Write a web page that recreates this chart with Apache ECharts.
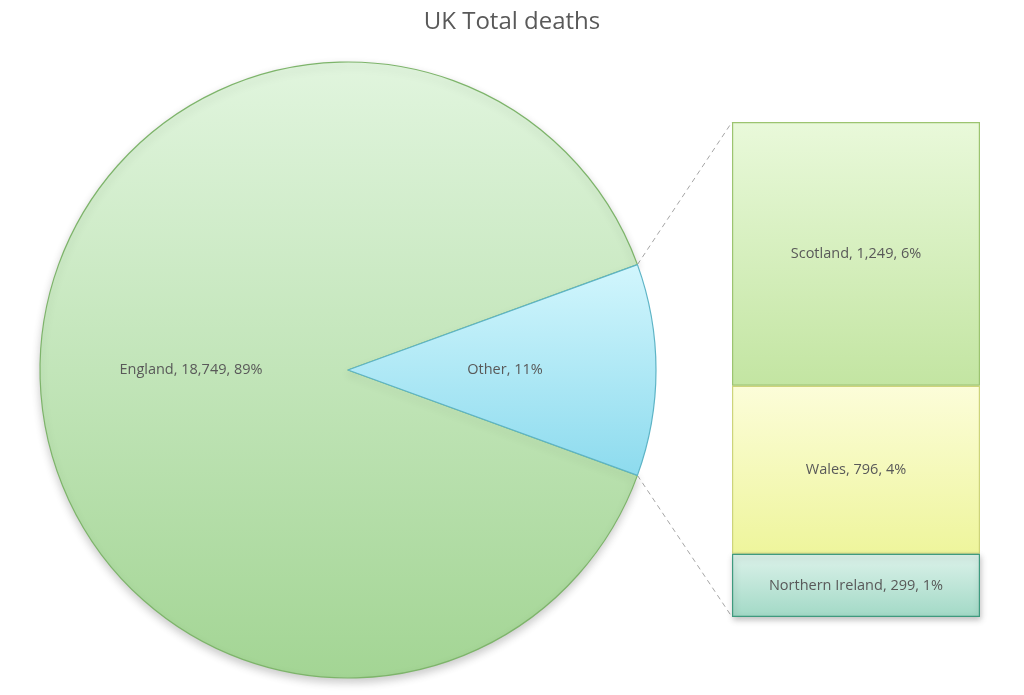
<!DOCTYPE html>
<html>
<head>
<meta charset="utf-8">
<script src="https://cdn.jsdelivr.net/npm/echarts@6/dist/echarts.min.js"></script>
<style>
html,body{margin:0;padding:0;background:#fff;}
#c{width:1024px;height:695px;}
</style>
</head>
<body>
<div id="c"></div>
<script>
// ---- data ----
const titleText = 'UK Total deaths';
const pieNames = ['England', 'Other'];
const otherNames = ['Northern Ireland', 'Wales', 'Scotland'];
const otherValues = [299, 796, 1249];
const englandValue = 18749;
const englandPct = '89%';
const otherPct = '11%';
const otherPcts = ['1%', '4%', '6%'];

// ---- layout ----
const CX = 348, CY = 370, R = 308;
const GRID = {left: 732, right: 44, top: 122, bottom: 78};
const W = 1024, H = 695;

const otherTotal = otherValues.reduce((a, b) => a + b, 0);
const total = otherTotal + englandValue;
const halfAngle = 180 * otherTotal / total;

const fontFam = '"Open Sans", "Noto Sans", sans-serif';
const textColor = '#595959';
const labelSize = 14.5;

function grad(top, bottom) {
  return {type: 'linear', x: 0, y: 0, x2: 0, y2: 1,
    colorStops: [{offset: 0, color: top}, {offset: 1, color: bottom}]};
}

const fmtNum = v => v.toLocaleString('en-US');

const barStyles = [
  {fill: grad('#dcf2ea', '#a2d9c6'), border: '#3f9a7e'},
  {fill: grad('#fcfdd9', '#eef59c'), border: '#cdd47a'},
  {fill: grad('#e9f9da', '#c3e5a2'), border: '#9cc470'}
];

const barSeries = otherNames.map((n, i) => ({
  name: n,
  type: 'bar',
  stack: 'other',
  barWidth: '100%',
  data: [otherValues[i]],
  itemStyle: Object.assign({
    color: barStyles[i].fill,
    borderColor: barStyles[i].border,
    borderWidth: 1.2
  }, i === 0 ? {shadowBlur: 6, shadowOffsetY: 3, shadowOffsetX: 1, shadowColor: 'rgba(0,0,0,0.25)'} : {}),
  label: {
    show: true, position: 'inside',
    formatter: n + ', ' + fmtNum(otherValues[i]) + ', ' + otherPcts[i],
    color: textColor, fontSize: labelSize, fontFamily: fontFam
  },
  z: 2 + (otherNames.length - i),
  silent: true
}));

// connector lines computed from pie geometry and bar grid
const a = halfAngle * Math.PI / 180;
const p1 = [CX + R * Math.cos(a), CY - R * Math.sin(a)];
const p2 = [CX + R * Math.cos(a), CY + R * Math.sin(a)];
const barTopY = GRID.top, barBotY = H - GRID.bottom, barLeftX = GRID.left;

const option = {
  backgroundColor: '#fff',
  animation: false,
  title: {
    text: titleText, left: 'center', top: 5,
    textStyle: {color: textColor, fontSize: 24, fontWeight: 'normal', fontFamily: fontFam}
  },
  grid: {left: GRID.left, right: GRID.right, top: GRID.top, bottom: GRID.bottom},
  xAxis: {type: 'category', data: ['Other'], show: false},
  yAxis: {type: 'value', min: 0, max: otherTotal, show: false},
  graphic: [
    {type: 'line', z: 1, shape: {x1: p1[0], y1: p1[1], x2: barLeftX, y2: barTopY},
      style: {stroke: '#a6a6a6', lineWidth: 1, lineDash: [5, 4]}},
    {type: 'line', z: 1, shape: {x1: p2[0], y1: p2[1], x2: barLeftX, y2: barBotY},
      style: {stroke: '#a6a6a6', lineWidth: 1, lineDash: [5, 4]}}
  ],
  series: [
    {
      type: 'pie',
      center: [CX, CY],
      radius: R,
      startAngle: -halfAngle,
      clockwise: true,
      silent: true,
      label: {show: true, position: 'inside', color: textColor, fontSize: labelSize, fontFamily: fontFam},
      labelLine: {show: false},
      data: [
        {
          name: pieNames[0], value: englandValue,
          label: {formatter: pieNames[0] + ', ' + fmtNum(englandValue) + ', ' + englandPct},
          itemStyle: {color: grad('#e1f5de', '#a3d594'), borderColor: '#7db46a', borderWidth: 1.2,
            shadowBlur: 8, shadowOffsetY: 4, shadowColor: 'rgba(0,0,0,0.2)'}
        },
        {
          name: pieNames[1], value: otherTotal,
          label: {formatter: pieNames[1] + ', ' + otherPct},
          itemStyle: {color: grad('#d2f6fd', '#8ddbee'), borderColor: '#5eb4c6', borderWidth: 1.2}
        }
      ]
    }
  ].concat(barSeries)
};

const chart = echarts.init(document.getElementById('c'), null, {renderer: 'canvas'});
chart.setOption(option);
</script>
</body>
</html>
